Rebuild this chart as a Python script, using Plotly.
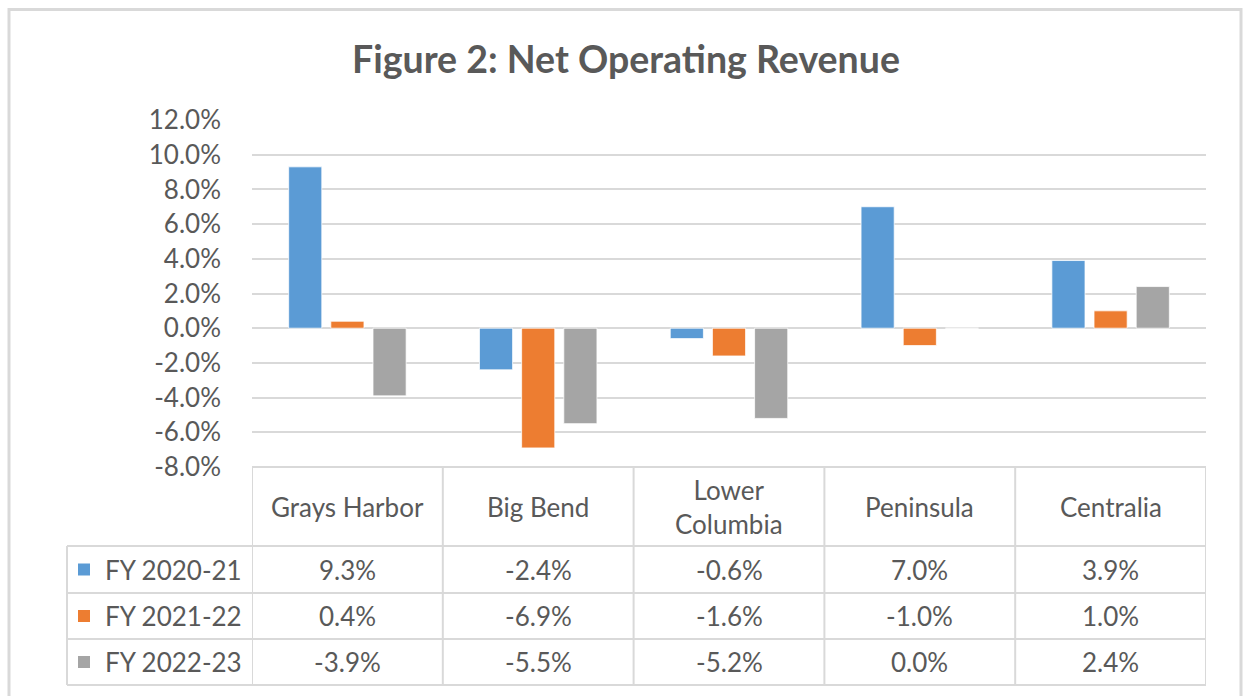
import plotly.graph_objects as go

# ---- data ----
categories = ["Grays Harbor", "Big Bend", "Lower Columbia", "Peninsula", "Centralia"]
category_labels = ["Grays Harbor", "Big Bend", "Lower<br>Columbia", "Peninsula", "Centralia"]
series_names = ["FY 2020-21", "FY 2021-22", "FY 2022-23"]
fy2020_21 = [9.3, -2.4, -0.6, 7.0, 3.9]
fy2021_22 = [0.4, -6.9, -1.6, -1.0, 1.0]
fy2022_23 = [-3.9, -5.5, -5.2, 0.0, 2.4]
tick_values = [-8, -6, -4, -2, 0, 2, 4, 6, 8, 10, 12]
tick_labels = ["-8.0%", "-6.0%", "-4.0%", "-2.0%", "0.0%", "2.0%", "4.0%", "6.0%", "8.0%", "10.0%", "12.0%"]
title_text = "Figure 2: Net Operating Revenue"

series_values = [fy2020_21, fy2021_22, fy2022_23]
colors = ["#5B9BD5", "#ED7D31", "#A5A5A5"]
TEXT = "#595959"
LINE = "#D9D9D9"
FONT = "Lato, 'Open Sans', sans-serif"
FS = 26

W, H = 1244, 696


def px(x):
    return x / W


def py(y):
    return 1 - y / H


x_idx = list(range(len(categories)))

fig = go.Figure()
for name, vals, col in zip(series_names, series_values, colors):
    fig.add_trace(go.Bar(
        x=x_idx, y=vals, name=name,
        marker=dict(color=col, line=dict(color="white", width=0.75)),
        showlegend=False, hoverinfo="skip",
    ))

# layout geometry
plot_left, plot_right = 252, 1206
plot_top, plot_bottom = 120, 467
header_bottom = 546
row_bounds = [546, 593, 639, 685]
legend_left = 67

shapes = []
annotations = []

# outer chart border (bottom edge runs past the visible area)
shapes.append(dict(type="rect", xref="paper", yref="paper",
                   x0=px(9), x1=px(1241), y0=py(710), y1=py(9.5),
                   line=dict(color=LINE, width=3), layer="below"))

# table horizontal lines
shapes.append(dict(type="line", xref="x", yref="paper", x0=-0.5, x1=len(categories) - 0.5,
                   y0=py(plot_bottom), y1=py(plot_bottom), line=dict(color=LINE, width=2)))
for yb in row_bounds:
    shapes.append(dict(type="line", xref="paper", yref="paper", x0=px(legend_left), x1=px(plot_right),
                       y0=py(yb), y1=py(yb), line=dict(color=LINE, width=2)))
# vertical lines
for k in range(len(categories) + 1):
    shapes.append(dict(type="line", xref="x", yref="paper", x0=k - 0.5, x1=k - 0.5,
                       y0=py(plot_bottom), y1=py(row_bounds[-1]), line=dict(color=LINE, width=2)))
shapes.append(dict(type="line", xref="paper", yref="paper", x0=px(legend_left), x1=px(legend_left),
                   y0=py(row_bounds[0]), y1=py(row_bounds[-1]), line=dict(color=LINE, width=2)))

# category headers
for i, lab in enumerate(category_labels):
    annotations.append(dict(x=i, xref="x", y=py((plot_bottom + header_bottom) / 2), yref="paper",
                            text=lab, showarrow=False, xanchor="center", yanchor="middle",
                            font=dict(family=FONT, size=FS, color=TEXT)))

# rows
for r, (name, vals, col) in enumerate(zip(series_names, series_values, colors)):
    yc = (row_bounds[r] + row_bounds[r + 1]) / 2
    shapes.append(dict(type="rect", xref="paper", yref="paper",
                       x0=px(78), x1=px(90), y0=py(yc + 6), y1=py(yc - 6),
                       fillcolor=col, line=dict(width=0)))
    annotations.append(dict(x=px(103), xref="paper", y=py(yc), yref="paper", text=name,
                            showarrow=False, xanchor="left", yanchor="middle",
                            font=dict(family=FONT, size=FS, color=TEXT)))
    for i, v in enumerate(vals):
        annotations.append(dict(x=i, xref="x", y=py(yc), yref="paper", text=f"{v:.1f}%",
                                showarrow=False, xanchor="center", yanchor="middle",
                                font=dict(family=FONT, size=FS, color=TEXT)))

# title
annotations.append(dict(x=px(626), xref="paper", y=py(58), yref="paper", text=f"<b>{title_text}</b>",
                        showarrow=False, xanchor="center", yanchor="middle",
                        font=dict(family=FONT, size=37.5, color=TEXT)))

fig.update_layout(
    width=W, height=H,
    margin=dict(l=0, r=0, t=0, b=0, pad=0),
    paper_bgcolor="white", plot_bgcolor="white",
    barmode="group", bargap=0.337, bargroupgap=0.214,
    xaxis=dict(domain=[px(plot_left), px(plot_right)], range=[-0.5, len(categories) - 0.5],
               showticklabels=False, showgrid=False, zeroline=False, showline=False,
               fixedrange=True, automargin=False),
    yaxis=dict(domain=[py(plot_bottom), py(plot_top)], range=[-8, 12],
               tickvals=tick_values, ticktext=tick_labels, ticks="",
               ticklabelstandoff=30, automargin=False, fixedrange=True,
               tickfont=dict(family=FONT, size=FS, color=TEXT),
               showgrid=True, gridcolor=LINE, gridwidth=2,
               zeroline=True, zerolinecolor=LINE, zerolinewidth=2, showline=False),
    shapes=shapes, annotations=annotations,
    showlegend=False,
)

fig.write_html(
    "out.html",
    config={"displayModeBar": False},
    post_script="document.body.style.margin='0';document.body.style.overflow='hidden';",
)
